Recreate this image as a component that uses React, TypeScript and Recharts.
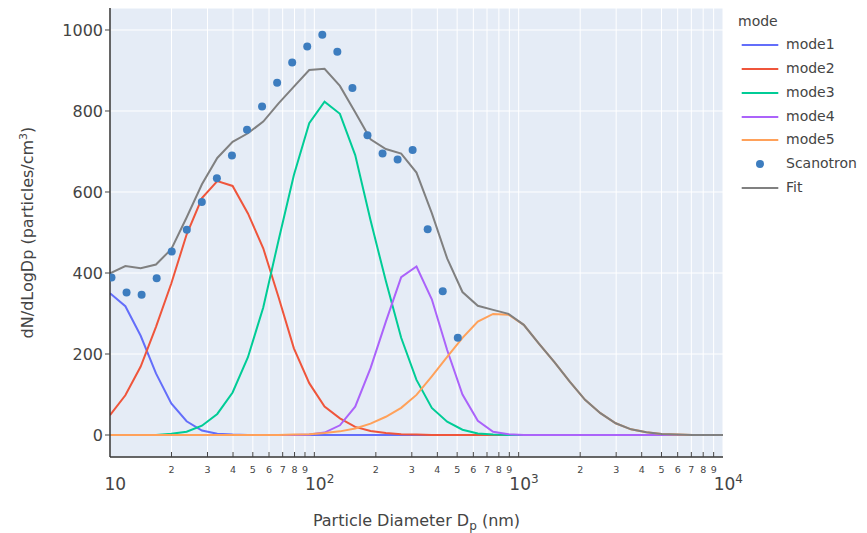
import React from 'react';
import { ComposedChart, Line, Scatter, XAxis, YAxis, CartesianGrid } from 'recharts';

const FONT = '"DejaVu Sans", Verdana, sans-serif';
const TEXT = '#444';

// Model grid diameters (nm)
const lineX = [10, 11.89, 14.13, 16.79, 19.95, 23.71, 28.18, 33.5, 39.81, 47.32, 56.23, 66.83, 79.43, 94.41, 112.2, 133.4, 158.5, 188.4, 223.9, 266.1, 316.2, 375.8, 446.7, 530.9, 631, 749.9, 891.3, 1059, 1259, 1496, 1778, 2113, 2512, 2985, 3548, 4217, 5012, 5957, 7079, 8414, 10000];

const mode1 = [350, 318, 245, 152, 78, 34, 11, 3, 1, 0, 0, 0, 0, 0, 0, 0, 0, 0, 0, 0, 0, 0, 0, 0, 0, 0, 0, 0, 0, 0, 0, 0, 0, 0, 0, 0, 0, 0, 0, 0, 0];
const mode2 = [49, 98, 169, 267, 374, 495, 585, 627, 615, 547, 461, 340, 214, 128, 70, 41, 20, 10, 5, 2, 1, 0, 0, 0, 0, 0, 0, 0, 0, 0, 0, 0, 0, 0, 0, 0, 0, 0, 0, 0, 0];
const mode3 = [0, 0, 0, 0, 3, 8, 23, 52, 105, 192, 315, 481, 642, 770, 823, 793, 691, 530, 380, 240, 136, 67, 33, 13, 4, 1, 0, 0, 0, 0, 0, 0, 0, 0, 0, 0, 0, 0, 0, 0, 0];
const mode4 = [0, 0, 0, 0, 0, 0, 0, 0, 0, 0, 0, 0, 0, 1, 6, 24, 70, 165, 280, 390, 416, 335, 210, 100, 35, 8, 2, 0, 0, 0, 0, 0, 0, 0, 0, 0, 0, 0, 0, 0, 0];
const mode5 = [0, 0, 0, 0, 0, 0, 0, 0, 0, 0, 0, 0, 1, 2, 5, 9, 16, 28, 45, 67, 99, 145, 193, 240, 280, 299, 297, 272, 225, 180, 132, 87, 54, 29, 14, 7, 2.5, 1, 0, 0, 0];
const fit = [399, 417, 412, 421, 459, 537, 619, 684, 724, 745, 774, 819, 860, 901, 904, 862, 797, 730, 706, 695, 648, 548, 436, 353, 319, 309, 299, 272, 225, 180, 132, 87, 54, 29, 14, 7, 2.5, 1, 0, 0, 0];

// Scanotron measurement
const scanX = [10.17, 12.05, 14.28, 16.92, 20.05, 23.76, 28.14, 33.35, 39.52, 46.83, 55.49, 65.75, 77.91, 92.3, 109.4, 129.6, 153.6, 182, 215.7, 255.6, 302.7, 358.7, 425, 503.6];
const scanY = [389, 352, 346, 387, 453, 507, 575, 634, 690, 754, 811, 870, 920, 959, 988, 946, 857, 740, 695, 680, 704, 508, 355, 240];

const xTicks = [10, 20, 30, 40, 50, 60, 70, 80, 90, 100, 200, 300, 400, 500, 600, 700, 800, 900, 1000, 2000, 3000, 4000, 5000, 6000, 7000, 8000, 9000, 10000];
const yTicks = [0, 200, 400, 600, 800, 1000];

const modeNames = ['mode1', 'mode2', 'mode3', 'mode4', 'mode5'];
const modeColors = ['#636EFA', '#EF553B', '#00CC96', '#AB63FA', '#FFA15A'];
const modeValues = [mode1, mode2, mode3, mode4, mode5];
const scanColor = '#3D7DBF';
const fitColor = '#808080';

const toPts = (xs: number[], ys: number[]) => xs.map((x, i) => ({ x, y: ys[i] }));

function XTick(props: any) {
  const { x, y, payload } = props;
  const v = payload.value as number;
  const lg = Math.log10(v);
  const e = Math.floor(lg + 1e-9);
  const mant = Math.round(v / Math.pow(10, e));
  const major = mant === 1;
  return (
    <g>
      {v > 10 && v < 10000 && <line x1={x} x2={x} y1={y} y2={y - 5} stroke={TEXT} strokeWidth={1} />}
      {major ? (
        <text x={x + 5.3} y={y + 33.3} textAnchor="middle" fontSize={17} fill={TEXT} fontFamily={FONT}>
          10{e > 1 && <tspan dy={-7} fontSize={12}>{e}</tspan>}
        </text>
      ) : (
        <text x={x} y={y + 15.7} textAnchor="middle" fontSize={9.5} fill={TEXT} fontFamily={FONT}>
          {mant}
        </text>
      )}
    </g>
  );
}

function YTick(props: any) {
  const { x, y, payload } = props;
  return (
    <text x={x} y={y + 5.7} textAnchor="end" fontSize={16} fill={TEXT} fontFamily={FONT}>
      {payload.value}
    </text>
  );
}

function Dot(props: any) {
  const { cx, cy } = props;
  if (cx == null || cy == null) return null;
  return <circle cx={cx} cy={cy} r={4} fill={scanColor} />;
}

function Legend() {
  const rowH = 23.8;
  const rows = [
    ...modeNames.map((n, i) => ({ name: n, color: modeColors[i], kind: 'line' })),
    { name: 'Scanotron', color: scanColor, kind: 'dot' },
    { name: 'Fit', color: fitColor, kind: 'line' },
  ];
  return (
    <div style={{ position: 'absolute', left: 736, top: 9.5, width: 131, fontFamily: FONT, fontSize: 14, color: TEXT }}>
      <div style={{ height: rowH, lineHeight: rowH + 'px', paddingLeft: 2 }}>mode</div>
      {rows.map((r) => (
        <div key={r.name} style={{ height: rowH, display: 'flex', alignItems: 'center' }}>
          <svg width={50} height={rowH} style={{ display: 'block', flex: 'none' }}>
            {r.kind === 'line' ? (
              <line x1={5.7} x2={42.3} y1={rowH / 2} y2={rowH / 2} stroke={r.color} strokeWidth={2} />
            ) : (
              <circle cx={24} cy={rowH / 2} r={4} fill={r.color} />
            )}
          </svg>
          <span style={{ whiteSpace: 'nowrap', lineHeight: rowH + 'px' }}>{r.name}</span>
        </div>
      ))}
    </div>
  );
}

export default function App() {
  const scanData = toPts(scanX, scanY);
  const fitData = toPts(lineX, fit);
  return (
    <div style={{ position: 'absolute', left: 0, top: 0, width: 867, height: 533, background: '#fff' }}>
      <ComposedChart width={867} height={533} margin={{ top: 8, right: 144, bottom: 0, left: 0 }}>
        <CartesianGrid fill="#E5ECF6" stroke="#fff" strokeWidth={1} />
        <XAxis
          type="number"
          dataKey="x"
          scale="log"
          domain={[10, 10000]}
          allowDataOverflow
          ticks={xTicks}
          interval={0}
          height={76}
          tickSize={0}
          tickMargin={0}
          tickLine={false}
          axisLine={{ stroke: '#333', strokeWidth: 1.5 }}
          tick={<XTick />}
          label={(p: any) => {
            const vb = p.viewBox || {};
            const cx = (vb.x || 110) + (vb.width || 613) / 2;
            return (
              <text x={cx} y={526} textAnchor="middle" fontSize={16} fill={TEXT} fontFamily={FONT}>
                Particle Diameter D<tspan dy={4} fontSize={12}>p</tspan>
                <tspan dy={-4} fontSize={16}> (nm)</tspan>
              </text>
            );
          }}
        />
        <YAxis
          type="number"
          domain={[-54.3, 1054.3]}
          allowDataOverflow
          ticks={yTicks}
          width={110}
          tickSize={5}
          tickMargin={2}
          tickLine={{ stroke: TEXT }}
          axisLine={{ stroke: '#333', strokeWidth: 1.5 }}
          tick={<YTick />}
          label={(p: any) => {
            const vb = p.viewBox || {};
            const cy = (vb.y || 8) + (vb.height || 449) / 2;
            return (
              <text x={33} y={cy} transform={`rotate(-90, 33, ${cy})`} textAnchor="middle" fontSize={16} fill={TEXT} fontFamily={FONT}>
                dN/dLogDp (particles/cm<tspan dy={-6} fontSize={11}>3</tspan>
                <tspan dy={6} fontSize={16}>)</tspan>
              </text>
            );
          }}
        />
        {modeNames.map((n, i) => (
          <Line
            key={n}
            name={n}
            data={toPts(lineX, modeValues[i])}
            dataKey="y"
            type="linear"
            stroke={modeColors[i]}
            strokeWidth={2}
            dot={false}
            activeDot={false}
            isAnimationActive={false}
          />
        ))}
        <Scatter name="Scanotron" data={scanData} dataKey="y" fill={scanColor} shape={<Dot />} isAnimationActive={false} />
        <Line name="Fit" data={fitData} dataKey="y" type="linear" stroke={fitColor} strokeWidth={2} dot={false} activeDot={false} isAnimationActive={false} />
      </ComposedChart>
      <Legend />
    </div>
  );
}
